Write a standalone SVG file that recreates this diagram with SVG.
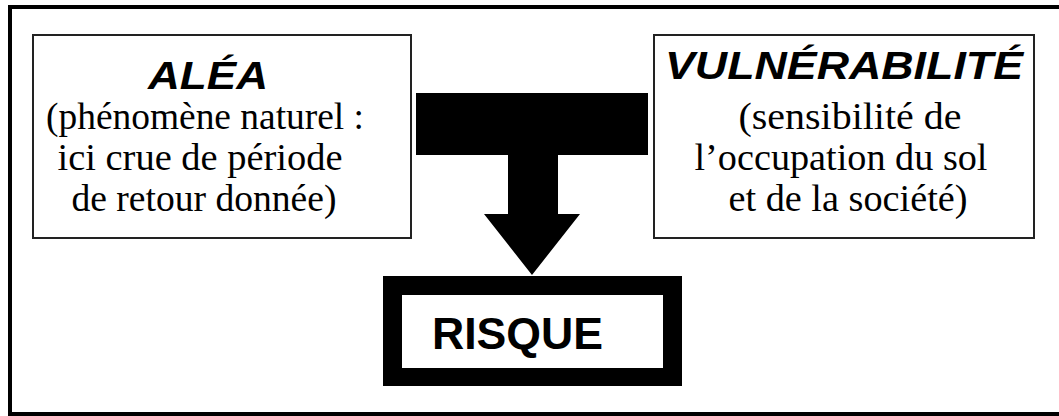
<svg xmlns="http://www.w3.org/2000/svg" width="1059" height="416" viewBox="0 0 1059 416">
  <style>
    .box { fill: #ffffff; stroke: #222222; stroke-width: 2; }
    .title { font-family: "Liberation Sans", Arial, sans-serif; font-weight: bold; font-style: italic; font-size: 39px; fill: #000; text-anchor: middle; }
    .body { font-family: "Liberation Serif", "Times New Roman", serif; font-size: 38px; fill: #000; text-anchor: middle; }
    .risk { font-family: "Liberation Sans", Arial, sans-serif; font-weight: bold; font-size: 45px; fill: #000; }
  </style>
  <rect width="1059" height="416" fill="#ffffff"/>

  <!-- outer frame, open on the right -->
  <path d="M1059,7 H10 V414 H1059" fill="none" stroke="#000" stroke-width="4"/>

  <g id="alea">
    <rect class="box" x="33" y="35" width="378" height="203"/>
    <text class="title" x="208" y="89" textLength="120" lengthAdjust="spacingAndGlyphs">ALÉA</text>
    <text class="body" x="205" y="129" textLength="318" lengthAdjust="spacingAndGlyphs">(phénomène naturel :</text>
    <text class="body" x="200" y="170" textLength="285" lengthAdjust="spacingAndGlyphs">ici crue de période</text>
    <text class="body" x="204" y="211" textLength="265" lengthAdjust="spacingAndGlyphs">de retour donnée)</text>
  </g>

  <g id="vulnerabilite">
    <rect class="box" x="654" y="35" width="380" height="203"/>
    <text class="title" x="844" y="79" textLength="358" lengthAdjust="spacingAndGlyphs">VULNÉRABILITÉ</text>
    <text class="body" x="850" y="129" textLength="223" lengthAdjust="spacingAndGlyphs">(sensibilité de</text>
    <text class="body" x="841" y="170" textLength="293" lengthAdjust="spacingAndGlyphs">l’occupation du sol</text>
    <text class="body" x="848" y="211" textLength="239" lengthAdjust="spacingAndGlyphs">et de la société)</text>
  </g>

  <g id="connectors">
    <!-- combining bar and downward arrow -->
    <polygon points="416,93 648,93 648,155 558,155 558,214 580,214 532,275 484,214 508,214 508,155 416,155 416,93" fill="#000"/>
  </g>

  <g id="risque">
    <rect x="383" y="276" width="299" height="110" fill="#000"/>
    <rect x="402" y="295" width="261" height="73" fill="#fff"/>
    <text class="risk" x="432" y="349" textLength="171" lengthAdjust="spacingAndGlyphs">RISQUE</text>
  </g>
</svg>
